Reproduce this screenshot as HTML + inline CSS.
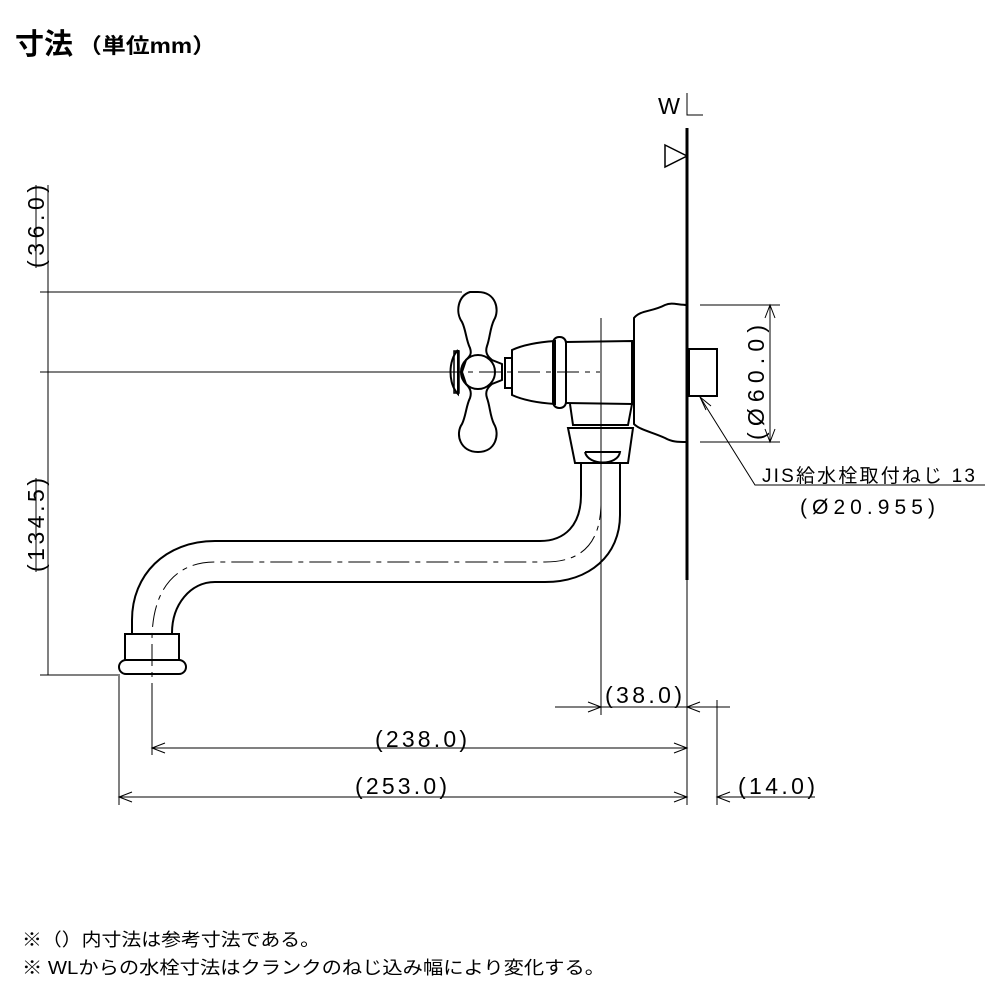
<!DOCTYPE html>
<html><head><meta charset="utf-8"><style>
body{margin:0;background:#fff;width:1000px;height:1000px;overflow:hidden}
svg{display:block}
text{font-family:"Liberation Sans","Noto Sans CJK JP",sans-serif;fill:#000}
</style></head><body>
<svg width="1000" height="1000" viewBox="0 0 1000 1000">
<text x="15" y="54" font-size="29" font-weight="bold">寸法</text>
<text x="78" y="53" font-size="21" font-weight="bold" textLength="138" lengthAdjust="spacingAndGlyphs">（単位mm）</text>
<g stroke="#000" fill="none" stroke-width="1">
<line x1="687" y1="128" x2="687" y2="580" stroke-width="3"/>
<path d="M665 145 L687 156 L665 167 Z" stroke-width="1.5"/>
<path d="M687 93 L687 115 L703 115"/>
<line x1="48" y1="185" x2="48" y2="675"/>
<line x1="40" y1="292" x2="462" y2="292"/>
<line x1="40" y1="372" x2="440" y2="372"/>
<line x1="440" y1="372" x2="600" y2="372" stroke-dasharray="22,6,5,6"/>
<line x1="40" y1="675" x2="120" y2="675"/>
<line x1="601" y1="318" x2="601" y2="715"/>
<g stroke-width="2">
<path d="M470 292 C458 296 455 312 462 322 C466 330 466 340 470 348 C472 354 470 356 466 360 L462 372 L466 384 C470 388 472 392 470 398 C466 406 466 416 462 424 C455 434 460 452 478 452 C496 452 500 434 494 424 C490 416 490 406 487 398 C485 392 487 388 492 384 L502 380 L502 364 L492 360 C487 356 485 352 487 346 C490 338 490 328 494 320 C500 310 496 292 478 292 Z"/>
<circle cx="478" cy="372" r="17"/>
<path d="M458 350 C448 360 448 384 458 394 L458 350" />
<rect x="454" y="351" width="5" height="42" stroke-width="1.5"/>
<rect x="505" y="358" width="7" height="30"/>
<path d="M512 350 C525 344 540 342 555 341 L555 404 C540 403 525 401 512 395 Z"/>
<rect x="553" y="337" width="13" height="71" rx="6"/>
<path d="M566 342 L632 341 L632 404 L566 403"/>
<path d="M634 318 C640 310 652 312 665 305 C672 302 678 305 687 305 L687 442 C678 442 672 442 665 438 C652 432 640 430 634 424 Z"/>
<path d="M570 404 L573 425 L628 425 L632 404"/>
<path d="M568 428 L633 428 L628 463 L575 463 Z"/>
<path d="M585 452 L620 452 C618 466 588 466 585 452"/>
<path d="M581 463 L581 495 C581 525 565 541 540 541 L215 541 C165 541 132 575 132 620 L132 633"/>
<path d="M620 463 L620 515 C620 555 590 582 545 582 L215 582 C190 582 172 605 172 633"/>
<rect x="125" y="634" width="54" height="26"/>
<rect x="119" y="660" width="67" height="14" rx="7"/>
<rect x="689" y="349" width="28" height="47"/>
</g>
<path d="M601 420 L601 505 C600 540 585 562 545 562 L215 562 C175 562 152 590 152 640 L152 700" stroke-dasharray="22,6,5,6"/>
<line x1="700" y1="305" x2="780" y2="305"/>
<line x1="700" y1="442" x2="780" y2="442"/>
<line x1="770" y1="305" x2="770" y2="442"/>
<path d="M765 318 L770 305 L775 318 M765 429 L770 442 L775 429"/>
<path d="M700 397 L755 485 L985 485"/>
<path d="M700 397 L706 410 M700 397 L711 406"/>
<line x1="687" y1="580" x2="687" y2="805"/>
<line x1="717" y1="700" x2="717" y2="805"/>
<line x1="152" y1="700" x2="152" y2="755"/>
<line x1="119" y1="676" x2="119" y2="805"/>
<line x1="555" y1="707" x2="730" y2="707"/>
<path d="M588 702 L601 707 L588 712 M700 702 L687 707 L700 712"/>
<line x1="152" y1="748" x2="687" y2="748"/>
<path d="M165 743 L152 748 L165 753 M674 743 L687 748 L674 753"/>
<line x1="119" y1="797" x2="687" y2="797"/>
<path d="M132 792 L119 797 L132 802 M674 792 L687 797 L674 802"/>
<line x1="717" y1="797" x2="815" y2="797"/>
<path d="M730 792 L717 797 L730 802"/>
<line x1="36" y1="185" x2="36" y2="268"/>
<line x1="36" y1="478" x2="36" y2="572"/>
</g>
<g font-size="23">
<text x="658" y="114" textLength="22" lengthAdjust="spacingAndGlyphs">W</text>
<text x="605" y="703" textLength="77" lengthAdjust="spacing">(38.0)</text>
<text x="375" y="747" textLength="92" lengthAdjust="spacing">(238.0)</text>
<text x="355" y="794" textLength="92" lengthAdjust="spacing">(253.0)</text>
<text x="738" y="794" textLength="77" lengthAdjust="spacing">(14.0)</text>
<text transform="translate(44,185) rotate(-90)" x="-83" textLength="83" lengthAdjust="spacing">(36.0)</text>
<text transform="translate(44,572) rotate(-90)" textLength="94" lengthAdjust="spacing">(134.5)</text>
<text transform="translate(764,440) rotate(-90)" textLength="115" lengthAdjust="spacing">(Ø60.0)</text>
<text x="762" y="482" font-size="19" textLength="213" lengthAdjust="spacing">JIS給水栓取付ねじ 13</text>
<text x="800" y="514" font-size="21" textLength="135" lengthAdjust="spacing">(Ø20.955)</text>
</g>
<text x="22" y="946" font-size="18" textLength="298" lengthAdjust="spacingAndGlyphs">※（）内寸法は参考寸法である。</text>
<text x="22" y="974" font-size="18" textLength="583" lengthAdjust="spacingAndGlyphs">※ WLからの水栓寸法はクランクのねじ込み幅により変化する。</text>
</svg>
</body></html>
